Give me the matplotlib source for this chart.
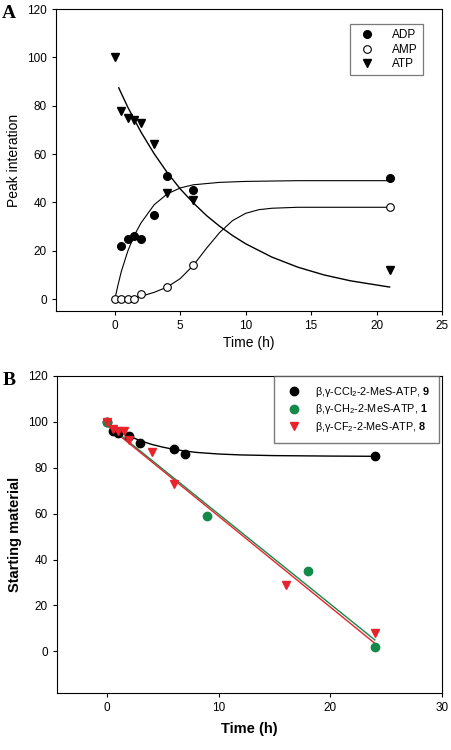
import matplotlib
matplotlib.use('Agg')
import matplotlib.pyplot as plt

plt.rcParams['font.family'] = ['Liberation Sans', 'DejaVu Sans']
plt.rcParams['mathtext.fontset'] = 'custom'
plt.rcParams['mathtext.rm'] = 'Liberation Sans'
plt.rcParams['mathtext.bf'] = 'Liberation Sans:bold'

# ---- panel A data ----
adp_t = [0.5, 1, 1.5, 2, 3, 4, 6, 21]
adp_y = [22, 25, 26, 25, 35, 51, 45, 50]
amp_t = [0, 0.5, 1, 1.5, 2, 4, 6, 21]
amp_y = [0, 0, 0, 0, 2, 5, 14, 38]
atp_t = [0, 0.5, 1, 1.5, 2, 3, 4, 6, 21]
atp_y = [100, 78, 75, 74, 73, 64, 44, 41, 12]

# fitted curves
adp_fit_t = [0, 0.25, 0.5, 1, 1.5, 2, 3, 4, 5, 6, 8, 10, 14, 21]
adp_fit_y = [0, 6, 11.5, 20, 26.5, 31.5, 39, 43.5, 46, 47.3, 48.3, 48.7, 49, 49]
amp_fit_t = [0, 1, 2, 3, 4, 5, 6, 7, 8, 9, 10, 11, 12, 14, 17, 21]
amp_fit_y = [0, 0.3, 1.2, 2.8, 5, 8.5, 14, 21, 27.5, 32.5, 35.5, 37, 37.6, 38, 38, 38]
atp_fit_t = [0.3, 1, 2, 3, 4, 5, 6, 7, 8, 9, 10, 12, 14, 16, 18, 21]
atp_fit_y = [87.4, 79.3, 69.1, 60.2, 52.4, 45.6, 39.8, 34.6, 30.2, 26.3, 22.9, 17.4, 13.2, 10.0, 7.6, 5.0]

# ---- panel B data ----
ccl2_t = [0, 0.5, 1, 2, 3, 6, 7, 24]
ccl2_y = [100, 96, 95, 94, 91, 88, 86, 85]
ch2_t = [0, 9, 18, 24]
ch2_y = [100, 59, 35, 2]
cf2_t = [0, 0.5, 1, 1.5, 2, 4, 6, 16, 24]
cf2_y = [100, 97, 96, 96, 92, 87, 73, 29, 8]

ccl2_fit_t = [0, 0.5, 1, 2, 3, 4, 5, 6, 7, 8, 10, 12, 15, 20, 24]
ccl2_fit_y = [99, 97.5, 96, 93.8, 91.8, 90.2, 89, 88, 87.3, 86.7, 86, 85.6, 85.3, 85.1, 85]
ch2_fit_t = [0, 24]
ch2_fit_y = [99, 5]
cf2_fit_t = [0, 24]
cf2_fit_y = [98.5, 3.5]

green = '#138a4a'
red = '#e8232b'

fig = plt.figure(figsize=(4.51, 7.5), dpi=100)

# ---------------- A ----------------
axA = fig.add_axes([0.124, 0.585, 0.856, 0.403])
axA.plot(adp_fit_t, adp_fit_y, color='black', lw=0.8)
axA.plot(amp_fit_t, amp_fit_y, color='black', lw=0.8)
axA.plot(atp_fit_t, atp_fit_y, color='black', lw=1.0)
axA.plot(adp_t, adp_y, 'o', color='black', ms=5.5, ls='none', label='ADP')
axA.plot(amp_t, amp_y, 'o', mfc='white', mec='black', mew=0.8, ms=5.5, ls='none', label='AMP')
axA.plot(atp_t, atp_y, 'v', color='black', ms=5.5, ls='none', label='ATP')
axA.set_xlim(-4.5, 25)
axA.set_ylim(-5, 120)
axA.set_xticks([0, 5, 10, 15, 20, 25])
axA.set_yticks([0, 20, 40, 60, 80, 100, 120])
axA.tick_params(direction='out', labelsize=8.5, length=3)
axA.set_xlabel('Time (h)', fontsize=10, labelpad=3)
axA.set_ylabel('Peak interation', fontsize=10)
legA = axA.legend(loc='upper right', bbox_to_anchor=(0.951, 0.950), borderaxespad=0,
                  fontsize=8.5, fancybox=False, edgecolor='0.35', handletextpad=1.1,
                  labelspacing=0.2, borderpad=0.45)
legA.get_frame().set_linewidth(0.9)

# ---------------- B ----------------
axB = fig.add_axes([0.1257, 0.0764, 0.854, 0.4223])
axB.plot(ccl2_fit_t, ccl2_fit_y, color='black', lw=1.0)
axB.plot(ch2_fit_t, ch2_fit_y, color=green, lw=1.0)
axB.plot(cf2_fit_t, cf2_fit_y, color=red, lw=1.0)
axB.plot(ccl2_t, ccl2_y, 'o', color='black', ms=6, ls='none',
         label=r'β,γ-CCl$_2$-2-MeS-ATP, $\mathbf{9}$')
axB.plot(ch2_t, ch2_y, 'o', color=green, ms=6, ls='none',
         label=r'β,γ-CH$_2$-2-MeS-ATP, $\mathbf{1}$')
axB.plot(cf2_t, cf2_y, 'v', color=red, ms=6, ls='none',
         label=r'β,γ-CF$_2$-2-MeS-ATP, $\mathbf{8}$')
axB.set_xlim(-4.5, 30)
axB.set_ylim(-18, 120)
axB.set_xticks([0, 10, 20, 30])
axB.set_yticks([0, 20, 40, 60, 80, 100, 120])
axB.tick_params(direction='out', labelsize=8.5, length=3)
axB.set_xlabel('Time (h)', fontsize=10.5, fontweight='bold', labelpad=6)
axB.set_ylabel('Starting material', fontsize=10.5, fontweight='bold')
legB = axB.legend(loc='upper right', bbox_to_anchor=(0.993, 1.0), borderaxespad=0,
                  fontsize=7.8, fancybox=False, edgecolor='0.35', handletextpad=1.0,
                  labelspacing=0.35, borderpad=0.8)
legB.get_frame().set_linewidth(1.0)

fig.text(0.005, 0.982, 'A', family='Liberation Serif', fontweight='bold', fontsize=14,
         va='center')
fig.text(0.005, 0.493, 'B', family='Liberation Serif', fontweight='bold', fontsize=14,
         va='center')

fig.savefig('out.png', dpi=100)
